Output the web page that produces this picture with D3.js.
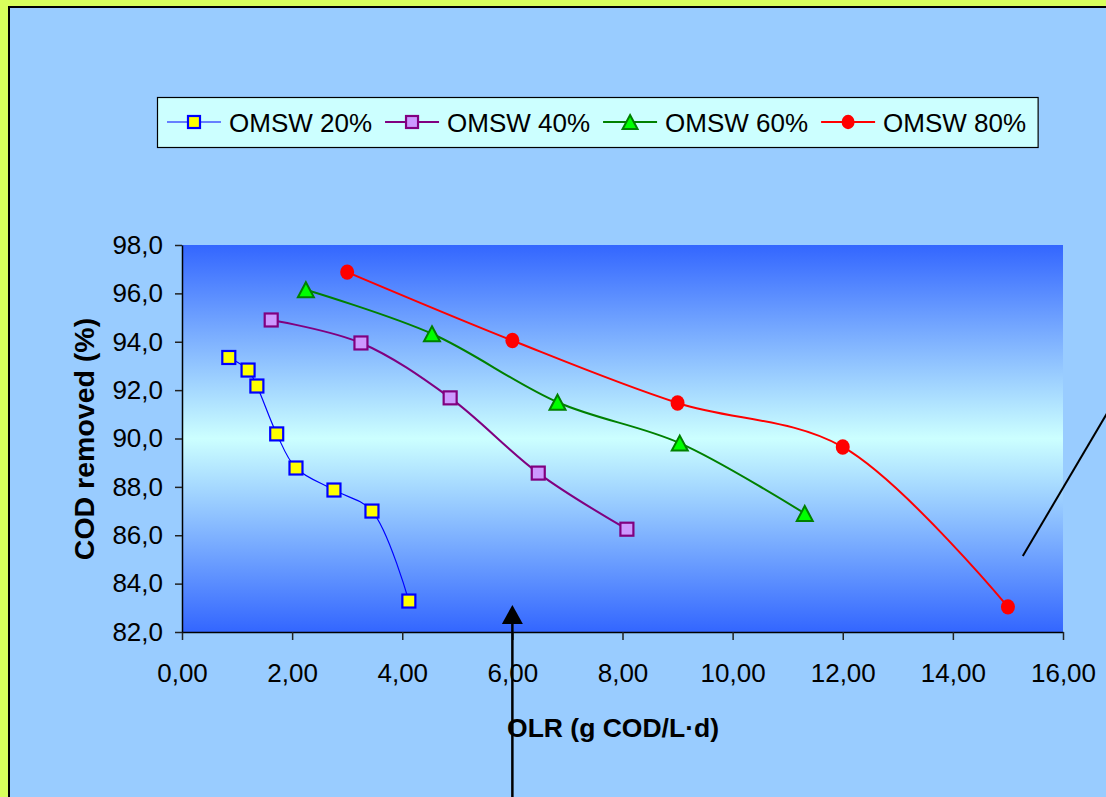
<!DOCTYPE html>
<html><head><meta charset="utf-8">
<script src="https://cdn.jsdelivr.net/npm/d3@7"></script>
<style>
body{margin:0;background:#fff;}
svg{display:block;font-family:"Liberation Sans",Arial,sans-serif;}
</style>
</head><body>
<svg id="c" width="1106" height="797"></svg>
<script>
// ---- data ----
const seriesNames = ["OMSW 20%", "OMSW 40%", "OMSW 60%", "OMSW 80%"];
const olr20 = [0.85, 1.20, 1.36, 1.72, 2.07, 2.76, 3.45, 4.12];
const cod20 = [93.35, 92.83, 92.17, 90.19, 88.78, 87.87, 87.00, 83.28];
const olr40 = [1.62, 3.25, 4.87, 6.47, 8.08];
const cod40 = [94.90, 93.95, 91.68, 88.57, 86.25];
const olr60 = [2.25, 4.54, 6.82, 9.04, 11.31];
const cod60 = [96.15, 94.33, 91.50, 89.81, 86.90];
const olr80 = [3.0, 6.0, 9.0, 12.0, 15.0];
const cod80 = [96.88, 94.05, 91.47, 89.65, 83.04];
const xTicks = [0, 2, 4, 6, 8, 10, 12, 14, 16];
const yTicks = [82, 84, 86, 88, 90, 92, 94, 96, 98];
const xTitle = "OLR (g COD/L·d)";
const yTitle = "COD removed (%)";
// annotation positions in data units
const arrowX = 6.0, arrowTipY = 83.12;
const slashFrom = [15.27, 85.14], slashTo = [16.78, 90.97];

// ---- styles ----
const styles = [
  {line:"#0000FF", lw:1.2, fill:"#FFFF00", stroke:"#0000FF", shape:"square"},
  {line:"#800080", lw:2, fill:"#CC99FF", stroke:"#800080", shape:"square"},
  {line:"#008000", lw:2, fill:"#00FF00", stroke:"#008000", shape:"triangle"},
  {line:"#FF0000", lw:2, fill:"#FF0000", stroke:"#FF0000", shape:"circle"}
];
const series = [
  {name: seriesNames[0], x: olr20, y: cod20},
  {name: seriesNames[1], x: olr40, y: cod40},
  {name: seriesNames[2], x: olr60, y: cod60},
  {name: seriesNames[3], x: olr80, y: cod80}
];

const W = 1106, H = 797;
const svg = d3.select("#c");
const FS = 26;

// backgrounds
svg.append("rect").attr("x",0).attr("y",0).attr("width",W).attr("height",H).attr("fill","#D8FF5C");
svg.append("rect").attr("x",9).attr("y",7).attr("width",W+10).attr("height",H+10)
  .attr("fill","#99CCFF").attr("stroke","#000").attr("stroke-width",2);

const plot = {l:182, t:245, r:1063, b:632};
const x = d3.scaleLinear().domain([0,16]).range([plot.l, plot.r]);
const y = d3.scaleLinear().domain([82,98]).range([plot.b, plot.t]);

// gradient plot area
const defs = svg.append("defs");
const grad = defs.append("linearGradient").attr("id","pg").attr("x1",0).attr("y1",0).attr("x2",0).attr("y2",1);
grad.append("stop").attr("offset","0").attr("stop-color","#3366FF");
grad.append("stop").attr("offset","0.5").attr("stop-color","#CCFFFF");
grad.append("stop").attr("offset","1").attr("stop-color","#3366FF");
svg.append("rect").attr("x",plot.l).attr("y",plot.t).attr("width",plot.r-plot.l).attr("height",plot.b-plot.t)
  .attr("fill","url(#pg)");

// axes
const fmtX = d => d.toFixed(2).replace(".", ",");
const fmtY = d => d.toFixed(1).replace(".", ",");
const gx = svg.append("g").attr("transform",`translate(0,${plot.b})`)
  .call(d3.axisBottom(x).tickValues(xTicks).tickFormat(fmtX).tickSize(8).tickPadding(24).tickSizeOuter(0));
const gy = svg.append("g").attr("transform",`translate(${plot.l},0)`)
  .call(d3.axisLeft(y).tickValues(yTicks).tickFormat(fmtY).tickSize(7).tickPadding(12).tickSizeOuter(0));
[gx, gy].forEach(g => {
  g.select(".domain").attr("stroke","#000").attr("stroke-width",1.5);
  g.selectAll(".tick line").attr("stroke","#222").attr("stroke-width",1.5);
  g.selectAll(".tick text").attr("fill","#000").style("font-size",FS+"px")
    .style("font-family",'"Liberation Sans",Arial,sans-serif');
});
gx.selectAll(".tick text").attr("dy","0.71em");

// axis titles
svg.append("text").attr("x", 613).attr("y", 737).attr("text-anchor","middle")
  .style("font-size","26.5px").style("font-weight","bold").text(xTitle);
svg.append("text").attr("transform","translate(94,439) rotate(-90)").attr("text-anchor","middle")
  .style("font-size","28.5px").style("font-weight","bold").text(yTitle);

// markers
function drawMarker(g, shape, cx, cy, st, size) {
  if (shape === "square") {
    g.append("rect").attr("x",cx-size/2).attr("y",cy-size/2).attr("width",size).attr("height",size)
      .attr("fill",st.fill).attr("stroke",st.stroke).attr("stroke-width",2.2);
  } else if (shape === "triangle") {
    const w = size+3, h = size+2;
    g.append("path").attr("d",`M${cx},${cy-h/2}L${cx+w/2},${cy+h/2}L${cx-w/2},${cy+h/2}Z`)
      .attr("fill",st.fill).attr("stroke",st.stroke).attr("stroke-width",2);
  } else {
    g.append("ellipse").attr("cx",cx).attr("cy",cy).attr("rx",size/2+0.5).attr("ry",size/2+1.2)
      .attr("fill",st.fill);
  }
}

const line = d3.line().x(d=>x(d[0])).y(d=>y(d[1])).curve(d3.curveCatmullRom.alpha(0.5));
series.forEach((s,i) => {
  const st = styles[i];
  const pts = s.x.map((v,j)=>[v, s.y[j]]);
  const g = svg.append("g");
  g.append("path").attr("d", line(pts)).attr("fill","none").attr("stroke",st.line).attr("stroke-width",st.lw);
  pts.forEach(p => drawMarker(g, st.shape, x(p[0]), y(p[1]), st, 13));
});

// legend
const lg = svg.append("g");
const lbox = lg.append("rect").attr("x",157.5).attr("y",97.5).attr("height",50).attr("fill","#CCFFFF")
  .attr("stroke","#000").attr("stroke-width",1.2);
let cx = 167; const ly = 122;
series.forEach((s,i) => {
  const st = styles[i];
  lg.append("line").attr("x1",cx).attr("x2",cx+54).attr("y1",ly).attr("y2",ly)
    .attr("stroke",st.line).attr("stroke-width",st.lw);
  drawMarker(lg, st.shape, cx+27, ly, st, 12);
  const t = lg.append("text").attr("x",cx+62).attr("y",ly+9.5).style("font-size",FS+"px").attr("fill","#000").text(s.name);
  const tw = t.node().getComputedTextLength();
  cx = cx + 62 + tw + 13;
});
lbox.attr("width", cx - 157.5 - 1);

// annotations
svg.append("line").attr("x1",x(arrowX)).attr("x2",x(arrowX)).attr("y1",y(arrowTipY)+15).attr("y2",H+5)
  .attr("stroke","#000").attr("stroke-width",2.5);
svg.append("path").attr("d",`M${x(arrowX)},${y(arrowTipY)}l10.5,19h-21z`).attr("fill","#000");
const sa = [x(slashFrom[0]), y(slashFrom[1])], sb = [x(slashTo[0]), y(slashTo[1])];
const dx = sb[0]-sa[0], dy = sb[1]-sa[1];
svg.append("line").attr("x1",sa[0]).attr("y1",sa[1]).attr("x2",sa[0]+dx*2).attr("y2",sa[1]+dy*2)
  .attr("stroke","#000").attr("stroke-width",2);
</script>
</body></html>
